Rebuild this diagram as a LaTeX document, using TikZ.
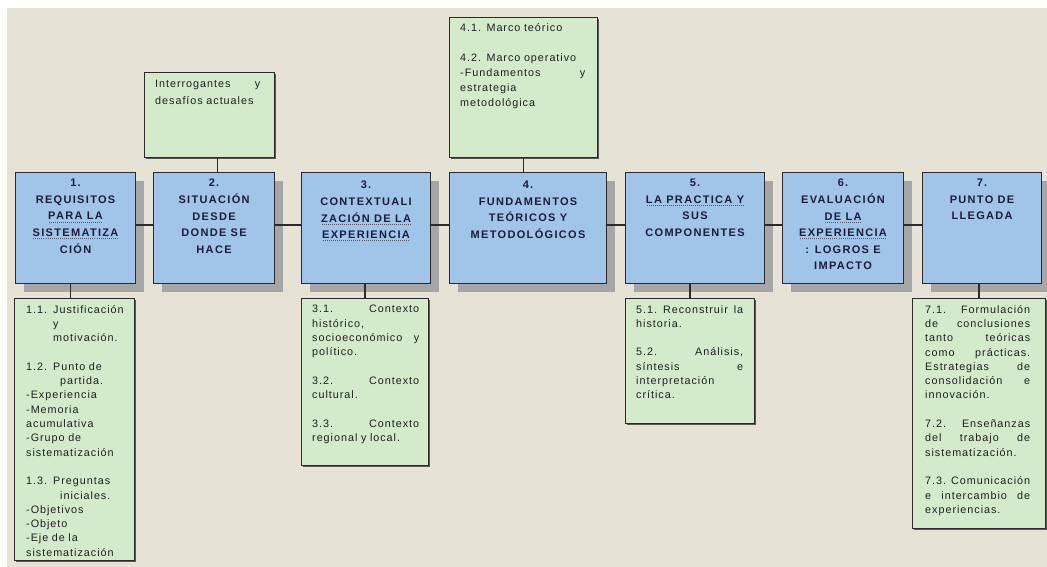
\documentclass[tikz,border=0pt]{standalone}
\usepackage{fontspec}
\setmainfont{Liberation Sans}
\newfontfamily\headfont[LetterSpace=12]{Liberation Sans}
\newfontfamily\bodyfont[LetterSpace=9]{Liberation Sans}
\usetikzlibrary{shadows}
\definecolor{panel}{HTML}{E6E3D6}
\definecolor{bluefill}{HTML}{A1C5E9}
\definecolor{greenfill}{HTML}{D3EACB}
\definecolor{edge}{HTML}{2A2A2A}
\definecolor{headink}{HTML}{1C1C3C}
\definecolor{shade}{HTML}{A6A6A6}
% a justified line: spaces stretched to the full text width
\newcommand{\J}[1]{\makebox[\hsize][s]{\spaceskip=0.3em plus 30em\xspaceskip=0.3em plus 30em #1}}
\newcommand{\gap}{\\[14.3pt]}
% dotted proofing underline under a word group
\newcommand{\sq}[1]{\setbox0\hbox{#1}\rlap{\raisebox{-2.6pt}{\hbox to \wd0{\color{headink!75}\xleaders\hbox to 2pt{\hss\rule{0.9pt}{0.9pt}\hss}\hfill}}}\box0}
\begin{document}
\begin{tikzpicture}[x=1pt,y=-1pt,
  stage/.style={draw=edge, line width=1.1pt, fill=bluefill, inner sep=0, anchor=north west,
    drop shadow={shadow xshift=8pt, shadow yshift=-8pt, fill=shade, opacity=1}},
  note/.style={draw=edge, line width=0.9pt, fill=greenfill, inner sep=0, anchor=north west,
    drop shadow={shadow xshift=2pt, shadow yshift=-2pt, fill=black!65, opacity=1}},
  headtext/.style={anchor=north, align=center, inner sep=0, text=headink,
    font=\headfont\bfseries\fontsize{11}{16.6}\selectfont},
  notetext/.style={anchor=north west, align=left, inner sep=0, text=black!88,
    font=\bodyfont\fontsize{10.8}{14.3}\selectfont},
  link/.style={draw=edge, line width=1.1pt}]
\useasboundingbox (0,0) rectangle (1047,567);
\fill[white] (0,0) rectangle (1047,8);
\fill[panel] (7,8) rectangle (1047,567);

% main stages
\node[stage, minimum width=120pt, minimum height=111pt] (b1) at (15,172) {};
\node[stage, minimum width=121pt, minimum height=111pt] (b2) at (153,172) {};
\node[stage, minimum width=129pt, minimum height=111pt] (b3) at (301,172) {};
\node[stage, minimum width=157pt, minimum height=111pt] (b4) at (449,172) {};
\node[stage, minimum width=139pt, minimum height=111pt] (b5) at (625,172) {};
\node[stage, minimum width=121pt, minimum height=111pt] (b6) at (782,172) {};
\node[stage, minimum width=119pt, minimum height=111pt] (b7) at (922,172) {};

\node[headtext] (b1t) at ([yshift=-7pt]b1.north) {1.\\REQUISITOS\\\sq{PARA LA}\\\sq{SISTEMATIZA}\\CIÓN};
\node[headtext] (b2t) at ([yshift=-7pt]b2.north) {2.\\SITUACIÓN\\DESDE\\DONDE SE\\HACE};
\node[headtext] (b3t) at ([yshift=-9pt]b3.north) {3.\\CONTEXTUALI\\\sq{ZACIÓN DE LA}\\\sq{EXPERIENCIA}};
\node[headtext] (b4t) at ([yshift=-9pt]b4.north) {4.\\FUNDAMENTOS\\TEÓRICOS Y\\METODOLÓGICOS};
\node[headtext] (b5t) at ([yshift=-7pt]b5.north) {5.\\\sq{LA PRACTICA Y}\\SUS\\COMPONENTES};
\node[headtext] (b6t) at ([yshift=-7pt]b6.north) {6.\\EVALUACIÓN\\\sq{DE LA}\\\sq{EXPERIENCIA}\\: LOGROS E\\IMPACTO};
\node[headtext] (b7t) at ([yshift=-7pt]b7.north) {7.\\PUNTO DE\\LLEGADA};

% notes above
\node[note, minimum width=130pt, minimum height=85pt] (q2) at (144,72) {};
\node[notetext, text width=105pt, font=\bodyfont\fontsize{10.8}{16.7}\selectfont] (q2t) at (155,80)
  {\J{Interrogantes y}\\desafíos actuales};
\node[note, minimum width=148pt, minimum height=140pt] (q4) at (449,17) {};
\node[notetext, text width=125pt, font=\bodyfont\fontsize{10.8}{15}\selectfont] (q4t) at (460,23)
  {4.1. Marco teórico\\[15pt]4.2. Marco operativo\\\J{-Fundamentos y}\\estrategia\\metodológica};

% notes below
\node[note, minimum width=120pt, minimum height=262pt] (s1) at (14,298) {};
\node[notetext, text width=104pt] (s1t) at (26,305)
  {\makebox[27pt][l]{1.1.}Justificación\\
   \hspace*{27pt}y\\
   \hspace*{27pt}motivación.\gap
   \makebox[27pt][l]{1.2.}Punto de\\
   \hspace*{34pt}partida.\\
   -Experiencia\\
   -Memoria\\
   acumulativa\\
   -Grupo de\\
   sistematización\gap
   \makebox[27pt][l]{1.3.}Preguntas\\
   \hspace*{34pt}iniciales.\\
   -Objetivos\\
   -Objeto\\
   -Eje de la\\
   sistematización};

\node[note, minimum width=127pt, minimum height=167pt] (s3) at (301,298) {};
\node[notetext, text width=107pt] (s3t) at (312,305)
  {\J{3.1. Contexto}\\histórico,\\\J{socioeconómico y}\\político.\gap
   \J{3.2. Contexto}\\cultural.\gap
   \J{3.3. Contexto}\\regional y local.};

\node[note, minimum width=129pt, minimum height=125pt] (s5) at (625,298) {};
\node[notetext, text width=107pt] (s5t) at (636,305)
  {\J{5.1. Reconstruir la}\\historia.\gap
   \J{5.2. Análisis,}\\\J{síntesis e}\\interpretación\\crítica.};

\node[note, minimum width=133pt, minimum height=230pt] (s7) at (912,298) {};
\node[notetext, text width=105pt] (s7t) at (925,305)
  {\J{7.1. Formulación}\\\J{de conclusiones}\\\J{tanto teóricas}\\\J{como prácticas.}\\
   \J{Estrategias de}\\\J{consolidación e}\\innovación.\gap
   \J{7.2. Enseñanzas}\\\J{del trabajo de}\\sistematización.\gap
   \J{7.3. Comunicación}\\\J{e intercambio de}\\experiencias.};

% connectors
\coordinate (row) at (0,225);
\foreach \a/\b in {b1/b2,b2/b3,b3/b4,b4/b5,b5/b6,b6/b7}
  \draw[link] (\a.east |- row) -- (\b.west |- row);
\draw[link] ([xshift=8pt]q2.south) -- ([xshift=8pt]q2.south |- b2.north);
\draw[link] (q4.south) -- (q4.south |- b4.north);
\draw[link] ([xshift=-4pt]s1.north |- b1.south) -- ([xshift=-4pt]s1.north);
\draw[link] (s3.north |- b3.south) -- (s3.north);
\draw[link] (s5.north |- b5.south) -- (s5.north);
\draw[link] (s7.north |- b7.south) -- (s7.north);
\end{tikzpicture}
\end{document}
